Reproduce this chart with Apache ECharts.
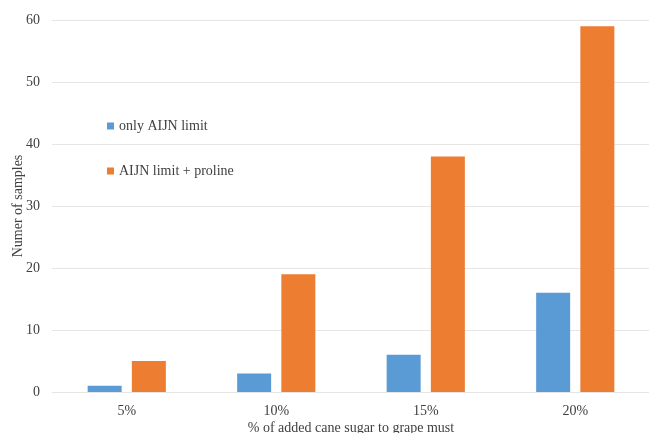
<!DOCTYPE html>
<html><head><meta charset="utf-8">
<script src="https://cdn.jsdelivr.net/npm/echarts@6/dist/echarts.min.js"></script>
<style>html,body{margin:0;padding:0;background:#fff}#c{width:649px;height:433px}</style>
</head><body><div id="c"></div>
<script>
const categories = ['5%', '10%', '15%', '20%'];
const onlyAIJN = [1, 3, 6, 16];
const aijnProline = [5, 19, 38, 59];
const seriesNames = ['only AIJN limit', 'AIJN limit + proline'];
const yTicks = {min: 0, max: 60, interval: 10};

const font = 'Liberation Serif, Times New Roman, serif';
const chart = echarts.init(document.getElementById('c'), null, {renderer: 'canvas'});
chart.setOption({
  animation: false,
  textStyle: {fontFamily: font},
  grid: {left: 52, top: 20, width: 598, height: 372, containLabel: false, outerBoundsMode: 'none'},
  legend: {
    orient: 'vertical', left: 102, top: 114, itemWidth: 7, itemHeight: 7, itemGap: 31,
    icon: 'rect',
    textStyle: {fontFamily: font, fontSize: 14, color: '#404040'},
    data: seriesNames
  },
  xAxis: {
    type: 'category', data: categories,
    axisLine: {lineStyle: {color: '#e6e6e6', width: 1}},
    axisTick: {show: false},
    axisLabel: {fontFamily: font, fontSize: 14, color: '#404040', margin: 12},
    name: '% of added cane sugar to grape must', nameLocation: 'middle', nameGap: 29,
    nameMoveOverlap: false,
    nameTextStyle: {fontFamily: font, fontSize: 14, color: '#404040'}
  },
  yAxis: {
    type: 'value', min: yTicks.min, max: yTicks.max, interval: yTicks.interval,
    axisLine: {show: false}, axisTick: {show: false},
    splitLine: {lineStyle: {color: '#e6e6e6', width: 1}},
    axisLabel: {fontFamily: font, fontSize: 14, color: '#404040', margin: 12},
    name: 'Numer of samples', nameLocation: 'middle', nameGap: 27, nameRotate: 90,
    nameMoveOverlap: false,
    nameTextStyle: {fontFamily: font, fontSize: 14, color: '#404040'}
  },
  series: [
    {name: seriesNames[0], type: 'bar', data: onlyAIJN, barWidth: 34, barGap: '30%',
     itemStyle: {color: '#5b9bd5'}},
    {name: seriesNames[1], type: 'bar', data: aijnProline, barWidth: 34, barGap: '30%',
     itemStyle: {color: '#ed7d31'}}
  ]
});
</script></body></html>
